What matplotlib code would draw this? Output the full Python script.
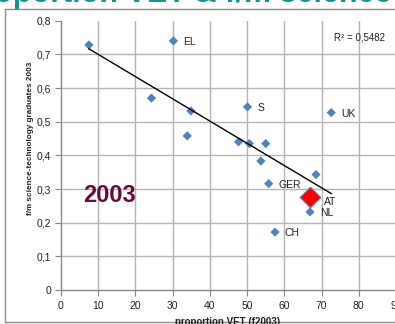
import numpy as np
import matplotlib
matplotlib.use("Agg")
import matplotlib.pyplot as plt
from matplotlib.ticker import FuncFormatter
from matplotlib.patches import Rectangle

plt.rcParams['font.family'] = ['Liberation Sans', 'DejaVu Sans']

# data
vet_share = [7.5, 30.2, 24.3, 34.9, 33.9, 50.1, 47.7, 50.6, 55.0, 53.7, 68.5, 55.8, 66.8, 66.9, 57.5, 72.6]
fm_ratio = [0.728, 0.740, 0.570, 0.532, 0.458, 0.544, 0.440, 0.435, 0.435, 0.383, 0.343, 0.316, 0.275, 0.232, 0.172, 0.527]
country = ['', 'EL', '', '', '', 'S', '', '', '', '', '', 'GER', 'AT', 'NL', 'CH', 'UK']
highlight = 'AT'
r2_text = "R² = 0,5482"
title_text = "Proportion VET & f/m science-technology"
year_text = "2003"
x_ticks = [0, 10, 20, 30, 40, 50, 60, 70, 80, 90]
y_ticks = [0, 0.1, 0.2, 0.3, 0.4, 0.5, 0.6, 0.7, 0.8]

W, H = 395, 324
fig = plt.figure(figsize=(W / 100, H / 100), dpi=100)

def fx(px):
    return px / W

def fy(py):
    return 1 - py / H

# chart border
fig.patches.append(Rectangle((fx(5), fy(322)), 1.2, fy(9) - fy(322), transform=fig.transFigure,
                             fill=False, edgecolor='#8c8c8c', linewidth=1.0))

ax = fig.add_axes([fx(61), fy(290), fx(396) - fx(61), fy(20.7) - fy(290)])
ax.set_xlim(0, 90)
ax.set_ylim(0, 0.8)
ax.set_xticks(x_ticks)
ax.set_yticks(y_ticks)
ax.yaxis.set_major_formatter(FuncFormatter(lambda v, p: ('%g' % round(v, 1)).replace('.', ',')))
ax.xaxis.set_major_formatter(FuncFormatter(lambda v, p: '%d' % v))
ax.tick_params(axis='both', labelsize=7.5, length=4, width=0.8, color='#868686', labelcolor='#222222', pad=3)
ax.tick_params(axis='x', pad=4)
ax.grid(True, color='#b4b4b4', linewidth=1.0)
ax.set_axisbelow(True)
ax.yaxis.get_gridlines()[-1].set_visible(False)
ax.yaxis.get_gridlines()[0].set_visible(False)
ax.xaxis.get_gridlines()[0].set_visible(False)
for s in ['top', 'right']:
    ax.spines[s].set_visible(False)
for s in ['left', 'bottom']:
    ax.spines[s].set_color('#868686')
    ax.spines[s].set_linewidth(1.0)

xs = np.array(vet_share)
ys = np.array(fm_ratio)
ax.scatter(xs, ys, marker='D', s=22, color='#4f81bd', edgecolors='none', zorder=3, clip_on=False)

# trend line
k, b = np.polyfit(xs, ys, 1)
xl = np.array([xs.min(), xs.max()])
ax.plot(xl, k * xl + b, color='black', linewidth=1.0, zorder=4)

for xv, yv, lab in zip(xs, ys, country):
    if lab == highlight:
        ax.scatter([xv], [yv], marker='D', s=110, color='red', edgecolors='#4f81bd', linewidths=0.8, zorder=5)
        ax.annotate(lab, (xv, yv), xytext=(10, -3), textcoords='offset points', fontsize=7.5,
                    va='center', ha='left', color='#222222')
    elif lab:
        ax.annotate(lab, (xv, yv), xytext=(7, -1), textcoords='offset points', fontsize=7.5,
                    va='center', ha='left', color='#222222')

fig.text(fx(360), fy(38), r2_text, fontsize=7, ha='center', va='center', color='#222222')

fig.text(fx(110), fy(196), year_text, fontsize=17, weight='bold', color='#6b0a3a', ha='center', va='center')

fig.text(fx(30), fy(138), "f/m science-technology graduates 2003", rotation=90, fontsize=5.9,
         weight='bold', ha='center', va='center', color='#222222')
fig.text(fx(228), fy(317), "proportion VET (f2003)", fontsize=7, weight='bold', ha='center', va='top',
         color='#222222')

fig.text(fx(-38), fy(2), title_text, fontsize=22, weight='bold', color='#17928f', ha='left', va='baseline')

fig.savefig('out.png', dpi=100)
